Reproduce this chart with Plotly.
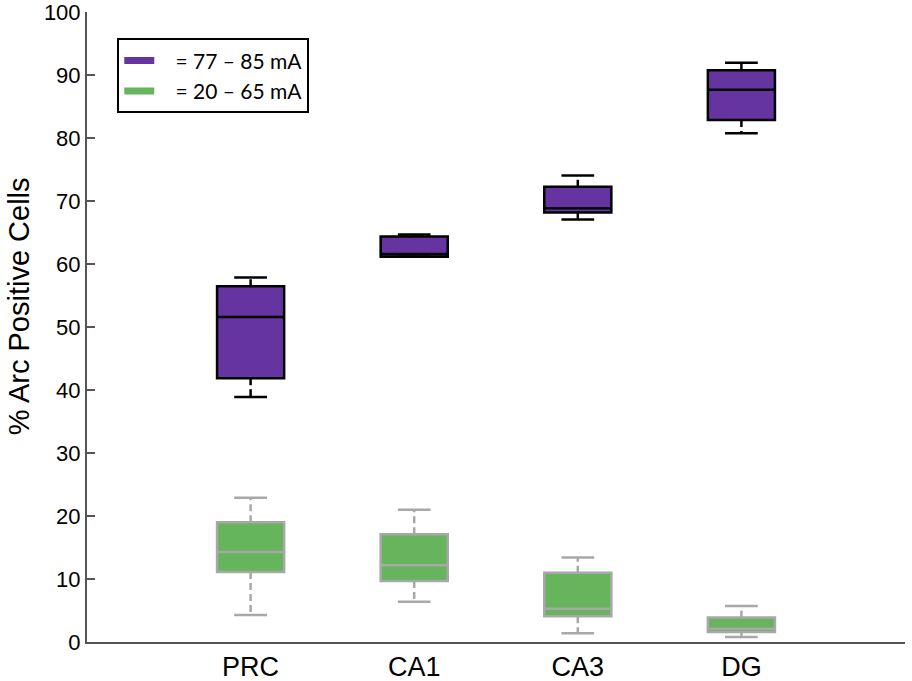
import plotly.graph_objects as go

# Regions on the x axis
regions = ['PRC', 'CA1', 'CA3', 'DG']
positions = [0, 1, 2, 3]

# High intensity group (77 - 85 mA), % Arc positive cells
high_lower = [38.9, 61.2, 67.1, 80.8]
high_q1 = [41.9, 61.2, 68.2, 82.9]
high_median = [51.6, 61.6, 68.9, 87.7]
high_q3 = [56.5, 64.4, 72.3, 90.8]
high_upper = [57.9, 64.7, 74.1, 92.0]

# Low intensity group (20 - 65 mA)
low_lower = [4.3, 6.4, 1.4, 0.8]
low_q1 = [11.1, 9.7, 4.1, 1.6]
low_median = [14.3, 12.2, 5.3, 2.1]
low_q3 = [19.0, 17.1, 11.0, 3.9]
low_upper = [22.9, 21.0, 13.4, 5.7]

PURPLE = '#6634a0'
GREEN = '#66b45c'
BOX_W = 0.41
CAP = 0.1

fig = go.Figure()


def add_group(name, lower, q1, med, q3, upper, fill, edge):
    # box itself (whiskers drawn separately so they can be dashed)
    fig.add_trace(go.Box(
        x=positions, q1=q1, median=med, q3=q3,
        lowerfence=q1, upperfence=q3,
        width=BOX_W, whiskerwidth=0,
        fillcolor=fill, line=dict(color=edge, width=2.5),
        boxpoints=False, showlegend=False, hoverinfo='skip'
    ))
    wx, wy, cx, cy = [], [], [], []
    for p, lo, a, b, hi in zip(positions, lower, q1, q3, upper):
        wx += [p, p, None, p, p, None]
        wy += [b, hi, None, a, lo, None]
        cx += [p - CAP, p + CAP, None, p - CAP, p + CAP, None]
        cy += [hi, hi, None, lo, lo, None]
    fig.add_trace(go.Scatter(x=wx, y=wy, mode='lines', showlegend=False,
                             line=dict(color=edge, width=2.5, dash='7px,4px'),
                             hoverinfo='skip'))
    fig.add_trace(go.Scatter(x=cx, y=cy, mode='lines', showlegend=False,
                             line=dict(color=edge, width=2.5), hoverinfo='skip'))
    # legend swatch
    fig.add_trace(go.Scatter(x=[None], y=[None], mode='lines', name=name,
                             legendgroup=name, line=dict(color=fill, width=7)))


# nbsp padding gives the gap between swatch and text seen in the original
add_group('\u00a0\u00a0\u00a0= 77 – 85 mA', high_lower, high_q1, high_median,
          high_q3, high_upper, PURPLE, 'black')
add_group('\u00a0\u00a0\u00a0= 20 – 65 mA', low_lower, low_q1, low_median,
          low_q3, low_upper, GREEN, '#a8a8a8')

fig.update_layout(
    width=912, height=681,
    margin=dict(l=87, r=7, t=12, b=39, autoexpand=False),
    paper_bgcolor='white', plot_bgcolor='white',
    boxmode='overlay',
    font=dict(family='Liberation Sans, Arial', color='black'),
    legend=dict(
        x=0.037, y=0.958, xanchor='left', yanchor='top',
        bordercolor='black', borderwidth=2, bgcolor='white',
        font=dict(family='Lato, Carlito, Calibri', size=21),
        traceorder='grouped', tracegroupgap=0,
    ),
    xaxis=dict(
        range=[-1, 4], tickvals=positions, ticktext=regions,
        showline=True, linecolor='#555555', linewidth=2,
        ticks='', showgrid=False, zeroline=False, automargin=False,
        tickfont=dict(size=27),
    ),
    yaxis=dict(
        range=[0, 100.05], tickvals=list(range(0, 101, 10)),
        showline=True, linecolor='#555555', linewidth=2,
        ticks='inside', ticklen=8, tickcolor='#555555', tickwidth=1.5,
        showgrid=False, zeroline=False, automargin=False,
        tickfont=dict(size=22),
    ),
    annotations=[dict(
        text='% Arc Positive Cells', textangle=-90, showarrow=False,
        xref='paper', yref='paper', x=-0.083, y=0.533,
        xanchor='center', yanchor='middle', font=dict(size=29),
    )],
)

# drop the default page margin so the figure sits at the window corner
fig.write_html('out.html', config={'displayModeBar': False},
               post_script="document.body.style.margin='0';")
